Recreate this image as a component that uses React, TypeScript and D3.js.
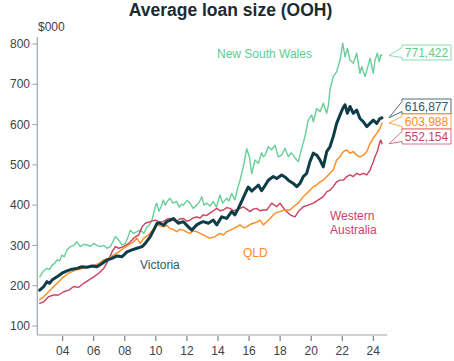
import React from 'react';
import * as d3 from 'd3';

const title = 'Average loan size (OOH)';
const yUnit = '$000';
const xTickYears = [2004, 2006, 2008, 2010, 2012, 2014, 2016, 2018, 2020, 2022, 2024];
const yTickValues = [100, 200, 300, 400, 500, 600, 700, 800];

const seriesNames = ['New South Wales', 'Victoria', 'QLD', 'Western Australia'];
const endLabels = ['771,422', '616,877', '603,988', '552,154'];

// [decimal year, $000]
const nswData: [number, number][] = [
  [2002.52, 222], [2002.75, 236], [2002.99, 243], [2003.15, 240], [2003.31, 251], [2003.5, 256], [2003.63, 264], [2003.8, 262],
  [2003.95, 276], [2004.1, 272], [2004.28, 289], [2004.49, 297], [2004.7, 300], [2004.92, 309], [2005.13, 297], [2005.35, 303],
  [2005.56, 301], [2005.8, 298], [2006.0, 305], [2006.2, 300], [2006.42, 297], [2006.65, 300], [2006.85, 293], [2007.07, 297],
  [2007.25, 310], [2007.39, 322], [2007.61, 313], [2007.82, 301], [2008.03, 305], [2008.2, 320], [2008.35, 338], [2008.55, 330],
  [2008.78, 334], [2009.0, 338], [2009.22, 330], [2009.43, 346], [2009.6, 352], [2009.75, 363], [2009.96, 396], [2010.05, 405],
  [2010.2, 385], [2010.35, 398], [2010.48, 413], [2010.6, 400], [2010.75, 410], [2010.91, 417], [2011.1, 405], [2011.34, 409],
  [2011.5, 395], [2011.65, 402], [2011.77, 400], [2012.0, 412], [2012.2, 405], [2012.4, 392], [2012.63, 400], [2012.8, 408],
  [2012.95, 421], [2013.1, 400], [2013.27, 405], [2013.5, 398], [2013.7, 409], [2013.9, 395], [2014.13, 425], [2014.3, 405],
  [2014.56, 417], [2014.7, 410], [2014.88, 429], [2015.09, 413], [2015.24, 438], [2015.42, 462], [2015.63, 495], [2015.85, 540],
  [2016.02, 520], [2016.17, 478], [2016.38, 512], [2016.6, 504], [2016.81, 530], [2016.92, 520], [2017.03, 524], [2017.24, 545],
  [2017.46, 537], [2017.67, 549], [2017.88, 520], [2018.1, 524], [2018.31, 541], [2018.53, 520], [2018.7, 530], [2018.85, 524],
  [2019.0, 515], [2019.17, 508], [2019.39, 541], [2019.6, 570], [2019.81, 611], [2020.03, 624], [2020.14, 607], [2020.36, 640],
  [2020.57, 632], [2020.78, 653], [2021.0, 628], [2021.11, 649], [2021.21, 686], [2021.42, 719], [2021.64, 731], [2021.86, 760],
  [2022.03, 802], [2022.18, 768], [2022.33, 789], [2022.5, 760], [2022.71, 752], [2022.93, 777], [2023.14, 727], [2023.25, 744],
  [2023.47, 719], [2023.62, 740], [2023.79, 765], [2024.0, 727], [2024.11, 760], [2024.26, 777], [2024.39, 756], [2024.48, 773],
  [2024.56, 771.4],
];

const vicData: [number, number][] = [
  [2002.52, 189], [2002.78, 198], [2002.99, 210], [2003.15, 206], [2003.31, 214], [2003.63, 222], [2003.95, 231], [2004.28, 237],
  [2004.6, 241], [2004.92, 243], [2005.24, 247], [2005.56, 246], [2005.89, 249], [2006.21, 247], [2006.53, 255], [2006.85, 264],
  [2007.17, 268], [2007.5, 274], [2007.82, 272], [2008.14, 284], [2008.46, 289], [2008.78, 293], [2009.11, 297], [2009.32, 305],
  [2009.64, 322], [2009.86, 338], [2010.07, 355], [2010.27, 355], [2010.5, 350], [2010.7, 359], [2010.9, 362], [2011.12, 367],
  [2011.44, 355], [2011.77, 359], [2012.09, 346], [2012.31, 338], [2012.63, 351], [2012.85, 356], [2013.05, 359], [2013.38, 355],
  [2013.7, 363], [2013.92, 351], [2014.24, 371], [2014.56, 367], [2014.88, 384], [2015.09, 376], [2015.31, 392], [2015.53, 410],
  [2015.74, 428], [2015.95, 445], [2016.17, 435], [2016.38, 442], [2016.6, 450], [2016.81, 436], [2016.92, 442], [2017.24, 462],
  [2017.56, 471], [2017.78, 466], [2018.1, 475], [2018.31, 470], [2018.53, 462], [2018.85, 454], [2019.07, 446], [2019.28, 454],
  [2019.49, 471], [2019.71, 479], [2019.92, 508], [2020.14, 529], [2020.36, 524], [2020.57, 512], [2020.78, 495], [2021.0, 533],
  [2021.21, 545], [2021.42, 570], [2021.64, 603], [2021.86, 624], [2022.03, 640], [2022.18, 649], [2022.33, 628], [2022.5, 645],
  [2022.71, 628], [2022.93, 636], [2023.14, 615], [2023.36, 607], [2023.58, 595], [2023.79, 603], [2024.0, 611], [2024.22, 603],
  [2024.43, 615], [2024.56, 616.9],
];

const qldData: [number, number][] = [
  [2002.52, 165], [2002.78, 173], [2003.1, 185], [2003.42, 198], [2003.74, 210], [2004.06, 222], [2004.39, 231], [2004.71, 237],
  [2005.03, 241], [2005.35, 243], [2005.67, 246], [2006.0, 251], [2006.32, 255], [2006.64, 264], [2006.96, 268], [2007.28, 276],
  [2007.61, 284], [2007.93, 293], [2008.25, 301], [2008.57, 309], [2008.78, 318], [2009.0, 305], [2009.22, 318], [2009.54, 326],
  [2009.86, 342], [2010.07, 351], [2010.3, 348], [2010.48, 346], [2010.7, 350], [2010.91, 342], [2011.1, 340], [2011.34, 334],
  [2011.55, 340], [2011.77, 338], [2012.0, 333], [2012.2, 330], [2012.4, 336], [2012.63, 334], [2012.85, 330], [2013.05, 326],
  [2013.25, 322], [2013.48, 318], [2013.81, 322], [2014.13, 330], [2014.35, 326], [2014.56, 334], [2014.8, 338], [2014.99, 342],
  [2015.2, 346], [2015.42, 351], [2015.65, 344], [2015.85, 346], [2016.06, 352], [2016.27, 355], [2016.5, 358], [2016.7, 363],
  [2016.92, 351], [2017.14, 359], [2017.35, 367], [2017.67, 380], [2017.99, 384], [2018.31, 388], [2018.64, 388], [2018.85, 396],
  [2019.17, 405], [2019.49, 421], [2019.71, 429], [2019.92, 437], [2020.14, 446], [2020.36, 450], [2020.57, 458], [2020.78, 462],
  [2021.0, 471], [2021.21, 479], [2021.42, 487], [2021.64, 512], [2021.86, 520], [2022.07, 533], [2022.29, 537], [2022.5, 529],
  [2022.71, 533], [2022.93, 524], [2023.14, 520], [2023.36, 524], [2023.58, 533], [2023.79, 553], [2024.0, 566], [2024.22, 578],
  [2024.43, 591], [2024.56, 604],
];

const waData: [number, number][] = [
  [2002.52, 156], [2002.78, 160], [2003.1, 173], [2003.42, 177], [2003.74, 177], [2004.06, 185], [2004.39, 189], [2004.71, 198],
  [2005.03, 196], [2005.35, 206], [2005.67, 214], [2006.0, 222], [2006.32, 231], [2006.64, 243], [2006.96, 264], [2007.17, 284],
  [2007.39, 297], [2007.61, 293], [2007.93, 297], [2008.25, 305], [2008.57, 318], [2008.89, 326], [2009.11, 346], [2009.32, 355],
  [2009.64, 359], [2009.96, 363], [2010.25, 358], [2010.48, 359], [2010.7, 365], [2010.91, 367], [2011.15, 362], [2011.34, 359],
  [2011.55, 366], [2011.77, 367], [2012.0, 360], [2012.2, 363], [2012.4, 368], [2012.63, 371], [2012.85, 368], [2013.05, 376],
  [2013.25, 374], [2013.48, 380], [2013.7, 386], [2013.92, 392], [2014.13, 386], [2014.34, 388], [2014.56, 394], [2014.77, 392],
  [2015.0, 386], [2015.2, 388], [2015.42, 392], [2015.63, 396], [2015.85, 390], [2016.06, 384], [2016.27, 390], [2016.49, 392],
  [2016.7, 386], [2016.92, 388], [2017.14, 388], [2017.46, 405], [2017.78, 396], [2017.99, 405], [2018.31, 388], [2018.64, 376],
  [2018.96, 371], [2019.17, 384], [2019.49, 396], [2019.81, 400], [2020.14, 405], [2020.46, 413], [2020.78, 421], [2021.0, 433],
  [2021.21, 437], [2021.42, 446], [2021.64, 458], [2021.86, 462], [2022.07, 462], [2022.29, 471], [2022.5, 475], [2022.71, 471],
  [2022.93, 479], [2023.14, 475], [2023.36, 479], [2023.58, 475], [2023.79, 487], [2024.0, 508], [2024.11, 520], [2024.26, 533],
  [2024.39, 553], [2024.48, 562], [2024.56, 552.2],
];

const allSeries = [nswData, vicData, qldData, waData];
const colors = ['#66cf98', '#0e3d48', '#ff8a1f', '#c9415e'];
const textColors = ['#5fcb92', '#2c5a68', '#ff8a1f', '#c4476a'];
const strokeWidths = [1.4, 3, 1.4, 1.4];
const drawOrder = [0, 3, 2, 1];

const FONT = '"Liberation Sans", Arial, Helvetica, sans-serif';

export default function App() {
  const W = 454;
  const H = 361;
  const x = d3.scaleLinear().domain([2004, 2024]).range([62.7, 373.3]);
  const y = d3.scaleLinear().domain([100, 800]).range([326, 44]);
  const axisLeft = 37.3;
  const axisRight = 387.3;
  const axisBottom = 335;
  const axisTop = 37;

  const line = d3
    .line<[number, number]>()
    .x((d) => x(d[0]))
    .y((d) => y(d[1]));

  // callout layout (pixel centres of label boxes)
  const boxCenters = [52.5, 106.5, 121.5, 136.5];
  const boxX = 402;
  const boxW = 49;
  const boxH = 15;
  const tipX = 389;

  const axisColor = '#9aa6ae';
  const tickText = '#3d4347';

  return (
    <svg
      width={W}
      height={H}
      style={{ position: 'absolute', left: 0, top: 0, background: '#fff' }}
      fontFamily={FONT}
    >
      <text x={230.5} y={16} textAnchor="middle" fontSize={17.5} fontWeight="bold" fill="#1c2a31">
        {title}
      </text>
      <text x={38} y={31} fontSize={12} fill={tickText}>
        {yUnit}
      </text>

      {/* axes */}
      <line x1={axisLeft} x2={axisLeft} y1={axisTop} y2={axisBottom} stroke={axisColor} strokeWidth={1.2} />
      <line x1={axisLeft} x2={axisRight} y1={axisBottom} y2={axisBottom} stroke={axisColor} strokeWidth={1.2} />
      {yTickValues.map((v) => (
        <g key={v}>
          <line x1={axisLeft - 5} x2={axisLeft} y1={y(v)} y2={y(v)} stroke={axisColor} strokeWidth={1} />
          <text x={30} y={y(v)} dy="0.35em" textAnchor="end" fontSize={12} fill={tickText}>
            {v}
          </text>
        </g>
      ))}
      {xTickYears.map((yr) => (
        <g key={yr}>
          <line x1={x(yr)} x2={x(yr)} y1={axisBottom + 1} y2={axisBottom + 6} stroke="#5d676d" strokeWidth={1} />
          <text x={x(yr)} y={axisBottom + 20} textAnchor="middle" fontSize={12} fill={tickText}>
            {String(yr % 100).padStart(2, '0')}
          </text>
        </g>
      ))}

      {/* series */}
      {drawOrder.map((i) => (
        <path
          key={i}
          d={line(allSeries[i]) || ''}
          fill="none"
          stroke={colors[i]}
          strokeWidth={strokeWidths[i]}
          strokeLinejoin="round"
          strokeLinecap="round"
        />
      ))}

      {/* series labels */}
      <text x={217} y={57.5} fontSize={12} fill={textColors[0]}>
        {seriesNames[0]}
      </text>
      <text x={140} y={268.5} fontSize={12} fill={textColors[1]}>
        {seriesNames[1]}
      </text>
      <text x={243} y={256.5} fontSize={12} fill={textColors[2]}>
        {seriesNames[2]}
      </text>
      <text x={330} y={219.5} fontSize={12} fill={textColors[3]}>
        {seriesNames[3].split(' ')[0]}
      </text>
      <text x={330} y={234} fontSize={12} fill={textColors[3]}>
        {seriesNames[3].split(' ')[1]}
      </text>

      {/* end callouts */}
      {allSeries.map((s, i) => {
        const last = s[s.length - 1];
        const tipY = y(last[1]);
        const cy = boxCenters[i];
        const top = cy - boxH / 2;
        const bot = cy + boxH / 2;
        const pts: [number, number][] = [
          [boxX, top],
          [boxX + boxW, top],
          [boxX + boxW, bot],
          [boxX, bot],
          [boxX, bot - 2.5],
          [tipX, tipY],
          [boxX, top + 2.5],
        ];
        return (
          <g key={i}>
            <polygon
              points={pts.map((p) => p.join(',')).join(' ')}
              fill="#fff"
              stroke={colors[i]}
              strokeOpacity={0.75}
              strokeWidth={1}
            />
            <text x={boxX + boxW / 2} y={cy} dy="0.36em" textAnchor="middle" fontSize={12} fill={textColors[i]}>
              {endLabels[i]}
            </text>
          </g>
        );
      })}
    </svg>
  );
}
